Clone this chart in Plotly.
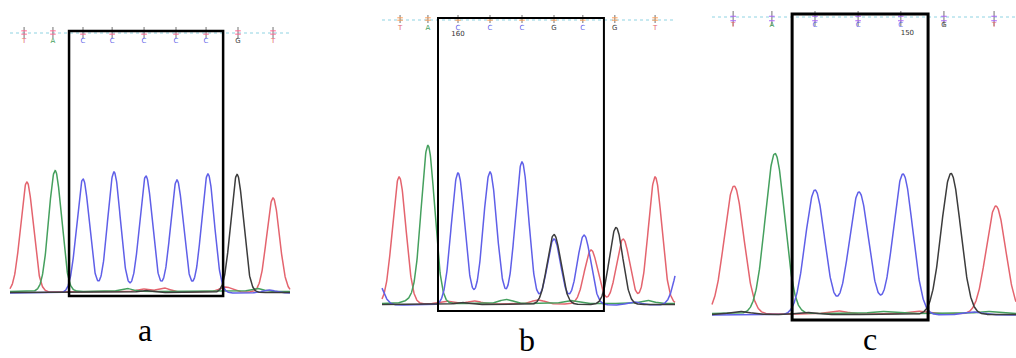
import numpy as np
import plotly.graph_objects as go

# ---------------- data ----------------
# base colours (ABI convention)
base_colors = {"A": "#45a05e", "C": "#5f5fe8", "G": "#3c3c3c", "T": "#e4646e"}

# Panel a : main peaks (position in base units, height in signal units)
a_peak_base = ["T", "A", "C", "C", "C", "C", "C", "G", "T"]
a_peak_pos = [0.19, 1.10, 2.00, 3.00, 4.03, 5.03, 6.03, 6.97, 8.13]
a_peak_height = [110, 121, 114, 121, 117, 113, 119, 118, 94]
a_noise_base = ["A", "T", "G", "T", "A", "C", "T"]
a_noise_pos = [3.4, 4.6, 4.0, 6.6, 7.6, 8.0, 3.9]
a_noise_height = [3, 4, 2, 5, 3, 3, 3]
a_call_letters = ["T", "A", "C", "C", "C", "C", "C", "G", "T"]
a_call_pos = [0.10, 1.03, 2.00, 2.94, 3.97, 5.00, 5.97, 7.00, 8.13]

# Panel b
b_peak_base = ["C", "T", "A", "C", "C", "C", "G", "C", "C", "T", "G", "T", "T", "C"]
b_peak_pos = [-0.60, 0.16, 1.06, 2.00, 3.00, 4.00, 5.00, 5.00, 5.94, 6.16, 6.94, 7.16, 8.16, 9.00]
b_peak_height = [30, 127, 158, 132, 133, 143, 70, 66, 70, 54, 77, 65, 127, 50]
b_noise_base = ["A", "T", "A", "T", "A", "G", "C", "A", "T"]
b_noise_pos = [0.5, 2.5, 3.5, 4.5, 5.5, 2.1, 7.5, 7.9, 1.6]
b_noise_height = [3, 3, 4, 4, 3, 2, 3, 3, 3]
b_call_letters = ["T", "A", "C", "C", "C", "G", "C", "G", "T"]
b_call_pos = [0.19, 1.06, 2.00, 3.00, 4.00, 5.00, 5.90, 6.90, 8.16]
b_call_number = "160"

# Panel c
c_peak_base = ["T", "A", "C", "C", "C", "G", "T"]
c_peak_pos = [0.16, 1.09, 2.00, 3.00, 4.00, 5.09, 6.11]
c_peak_height = [128, 160, 125, 123, 141, 141, 108]
c_noise_base = ["G", "T", "A", "T", "C", "G", "A"]
c_noise_pos = [0.3, 2.5, 3.5, 4.3, 5.6, 1.8, 5.9]
c_noise_height = [3, 3, 2, 3, 3, 2, 2]
c_call_letters = ["T", "A", "C", "C", "C", "G", "T"]
c_call_pos = [0.14, 1.02, 2.00, 2.98, 3.95, 4.93, 6.07]
c_call_number = "150"

# highlighted region of each panel (base units)
a_box = [1.55, 6.52]
b_box = [1.375, 6.56]
c_box = [1.48, 4.57]

panel_labels = ["a", "b", "c"]

# ---------------- layout geometry (pixels) ----------------
W, H = 1016, 358
geom = [
    dict(px0=0, px1=305, anchor=83, step=31, base=293, t0=10, t1=290, sigma=0.205,
         line_y=33, tick_top=27, tick_bot=38, letter_y=41, num_y=None,
         box_top=31, box_bot=296, box_w=2.5, lab_x=145, lab_y=330),
    dict(px0=375, px1=690, anchor=458, step=32, base=305, t0=382, t1=675, sigma=0.21,
         line_y=20, tick_top=15, tick_bot=23, letter_y=28, num_y=34,
         box_top=18, box_bot=311, box_w=2.0, lab_x=527, lab_y=340),
    dict(px0=705, px1=1016, anchor=815, step=44, base=315, t0=712, t1=1016, sigma=0.22,
         line_y=17, tick_top=11, tick_bot=26, letter_y=25, num_y=33,
         box_top=14, box_bot=320, box_w=3.0, lab_x=870, lab_y=339),
]

panels = [
    dict(pb=a_peak_base, pp=a_peak_pos, ph=a_peak_height, nb=a_noise_base, np_=a_noise_pos,
         nh=a_noise_height, cl=a_call_letters, cp=a_call_pos, num=None, box=a_box),
    dict(pb=b_peak_base, pp=b_peak_pos, ph=b_peak_height, nb=b_noise_base, np_=b_noise_pos,
         nh=b_noise_height, cl=b_call_letters, cp=b_call_pos, num=(b_call_number, 2.0), box=b_box),
    dict(pb=c_peak_base, pp=c_peak_pos, ph=c_peak_height, nb=c_noise_base, np_=c_noise_pos,
         nh=c_noise_height, cl=c_call_letters, cp=c_call_pos, num=(c_call_number, 4.1), box=c_box),
]

fig = go.Figure()
layout = dict(width=W, height=H, margin=dict(l=0, r=0, t=0, b=0),
              paper_bgcolor="white", plot_bgcolor="white", showlegend=False)
shapes = []
annotations = []

for i, (g, p) in enumerate(zip(geom, panels)):
    k = "" if i == 0 else str(i + 1)
    xa, ya = "x" + k, "y" + k
    to_u = lambda px, g=g: 2 + (px - g["anchor"]) / g["step"]
    to_h = lambda py, g=g: g["base"] - py
    layout["xaxis" + k] = dict(domain=[g["px0"] / W, g["px1"] / W],
                               range=[to_u(g["px0"]), to_u(g["px1"])],
                               visible=False, anchor=ya, fixedrange=True)
    layout["yaxis" + k] = dict(domain=[0, 1], range=[g["base"] - H, g["base"]],
                               visible=False, anchor=xa, fixedrange=True)

    grid = np.linspace(to_u(g["t0"]), to_u(g["t1"]), 900)
    offsets = {"T": 1.0, "A": 1.5, "C": 0.0, "G": 0.5}
    for b in ["T", "A", "C", "G"]:
        y = np.full_like(grid, offsets[b])
        for bb, pos, h in zip(p["pb"] + p["nb"], p["pp"] + p["np_"], p["ph"] + p["nh"]):
            if bb == b:
                y = y + h * np.exp(-(grid - pos) ** 2 / (2 * g["sigma"] ** 2))
        fig.add_trace(go.Scatter(x=grid, y=y, mode="lines", xaxis=xa, yaxis=ya,
                                 line=dict(color=base_colors[b], width=1.5),
                                 hoverinfo="skip"))

    # base-call ruler
    fig.add_trace(go.Scatter(x=[to_u(g["t0"]), to_u(g["t1"])],
                             y=[to_h(g["line_y"])] * 2, mode="lines", xaxis=xa, yaxis=ya,
                             line=dict(color="#8fd3e2", width=1, dash="dot"), hoverinfo="skip"))
    tx, ty = [], []
    for cp in p["cp"]:
        tx += [cp, cp, None]
        ty += [to_h(g["tick_top"]), to_h(g["tick_bot"]), None]
    fig.add_trace(go.Scatter(x=tx, y=ty, mode="lines", xaxis=xa, yaxis=ya,
                             line=dict(color="#8a8a8a", width=1.2), hoverinfo="skip"))
    mid1 = to_h(g["tick_top"] + (g["tick_bot"] - g["tick_top"]) * 0.35)
    mid2 = to_h(g["tick_top"] + (g["tick_bot"] - g["tick_top"]) * 0.65)
    fig.add_trace(go.Scatter(x=p["cp"] * 2, y=[mid1] * len(p["cp"]) + [mid2] * len(p["cp"]),
                             mode="markers", xaxis=xa, yaxis=ya,
                             marker=dict(symbol="line-ew-open", size=4,
                                         line=dict(color="#8a8a8a", width=1)),
                             hoverinfo="skip"))
    fig.add_trace(go.Scatter(x=p["cp"], y=[to_h(g["letter_y"])] * len(p["cp"]),
                             mode="text", text=p["cl"], xaxis=xa, yaxis=ya,
                             textfont=dict(size=7, family="DejaVu Sans",
                                           color=[base_colors[c] for c in p["cl"]]),
                             hoverinfo="skip"))
    if p["num"] is not None:
        fig.add_trace(go.Scatter(x=[p["num"][1]], y=[to_h(g["num_y"])], mode="text",
                                 text=[p["num"][0]], xaxis=xa, yaxis=ya,
                                 textfont=dict(size=7, family="DejaVu Sans", color="#333"),
                                 hoverinfo="skip"))

    shapes.append(dict(type="rect", xref=xa, yref=ya, x0=p["box"][0], x1=p["box"][1],
                       y0=to_h(g["box_bot"]), y1=to_h(g["box_top"]),
                       line=dict(color="black", width=g["box_w"])))
    annotations.append(dict(xref="paper", yref="paper", x=g["lab_x"] / W,
                            y=1 - g["lab_y"] / H, text=panel_labels[i], showarrow=False,
                            xanchor="center", yanchor="middle",
                            font=dict(family="Liberation Serif", size=32, color="black")))

layout["shapes"] = shapes
layout["annotations"] = annotations
fig.update_layout(**layout)
fig.write_html("out.html", config={"displayModeBar": False},
               post_script="document.body.style.margin='0';document.body.style.overflow='hidden';")
